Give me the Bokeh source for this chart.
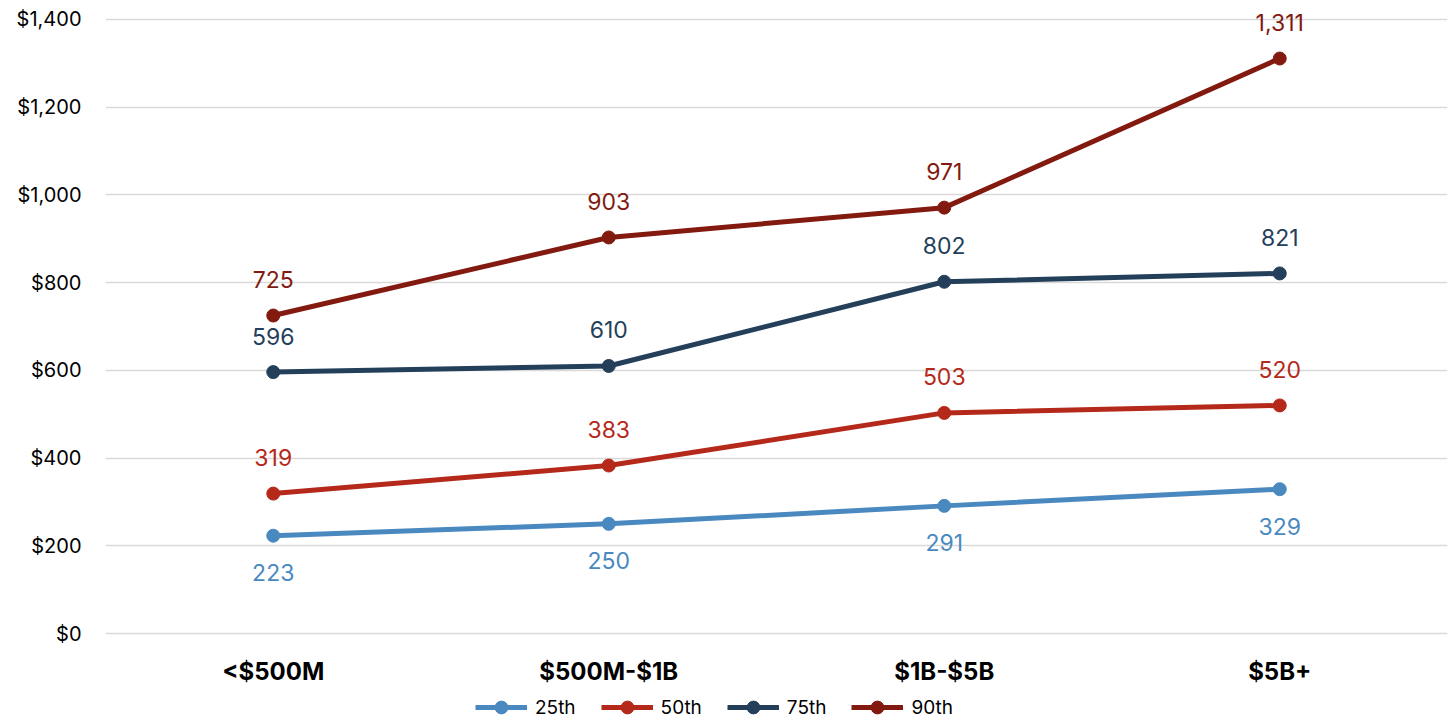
from bokeh.plotting import figure
from bokeh.layouts import column
from bokeh.models import Range1d, NumeralTickFormatter, Legend, LegendItem, ColumnDataSource, LabelSet
from bokeh.core.properties import value
from bokeh.embed import file_html
from bokeh.resources import INLINE

categories = ["<$500M", "$500M-$1B", "$1B-$5B", "$5B+"]
series_names = ["25th", "50th", "75th", "90th"]
p25 = [223, 250, 291, 329]
p50 = [319, 383, 503, 520]
p75 = [596, 610, 802, 821]
p90 = [725, 903, 971, 1311]
colors = ["#4a89bf", "#b5291a", "#243f5a", "#821a10"]
label_below = [True, False, False, False]

FONT = "Inter"

p = figure(x_range=categories, y_range=Range1d(-9.12, 1443.3),
           width=1453, height=688,
           output_backend="svg", toolbar_location=None,
           min_border_left=105, min_border_right=6, min_border_top=0, min_border_bottom=51)
p.x_range.range_padding = 0
p.outline_line_color = None
p.xgrid.grid_line_color = None
p.ygrid.grid_line_color = "#d9d9d9"
p.ygrid.grid_line_width = 1.5
p.yaxis.ticker = [0, 200, 400, 600, 800, 1000, 1200, 1400]
p.yaxis.formatter = NumeralTickFormatter(format="$0,0")
for ax in (p.xaxis, p.yaxis):
    ax.axis_line_color = None
    ax.major_tick_line_color = None
    ax.minor_tick_line_color = None
    ax.major_tick_out = 0
    ax.major_tick_in = 0
p.yaxis.major_label_text_font = FONT
p.yaxis.major_label_text_font_size = "20px"
p.yaxis.major_label_text_color = "#000000"
p.yaxis.major_label_standoff = 24
p.xaxis.major_label_text_font = FONT
p.xaxis.major_label_text_font_size = "24px"
p.xaxis.major_label_text_font_style = "bold"
p.xaxis.major_label_text_color = "#000000"
p.xaxis.major_label_standoff = 19

# legend strip (separate figure below the chart)
lf = figure(width=1453, height=35, x_range=Range1d(0, 1), y_range=Range1d(0, 1),
            output_backend="svg", toolbar_location=None,
            min_border_left=0, min_border_right=0, min_border_top=0, min_border_bottom=0)
lf.axis.visible = False
lf.grid.visible = False
lf.outline_line_color = None

items = []
for name, vals, col, below in zip(series_names, [p25, p50, p75, p90], colors, label_below):
    src = ColumnDataSource(dict(x=categories, y=vals, t=[f"{v:,}" for v in vals]))
    p.line("x", "y", source=src, line_color=col, line_width=5)
    p.scatter("x", "y", source=src, size=13, fill_color=col, line_color=col)
    lbl = LabelSet(x="x", y="y", text="t", source=src, text_align="center",
                   text_baseline="middle", y_offset=-37 if below else 36,
                   text_font=value(FONT), text_font_size=value("23px"),
                   text_color=value(col))
    p.add_layout(lbl)
    dsrc = ColumnDataSource(dict(x=[-10, -9], y=[-10, -10]))
    ll = lf.line("x", "y", source=dsrc, line_color=col, line_width=5)
    ls = lf.scatter("x", "y", source=dsrc, size=13, fill_color=col, line_color=col)
    items.append(LegendItem(label=name, renderers=[ll, ls]))

legend = Legend(items=items, orientation="horizontal", location=(370, 0),
                label_text_font=FONT, label_text_font_size="19px",
                label_text_color="#000000", glyph_width=52, glyph_height=32,
                label_height=16,
                spacing=25, padding=0, margin=0, border_line_color=None,
                background_fill_alpha=0, label_standoff=8)
lf.add_layout(legend)

layout = column(p, lf, spacing=0)
open("out.html", "w").write(file_html(layout, INLINE))
